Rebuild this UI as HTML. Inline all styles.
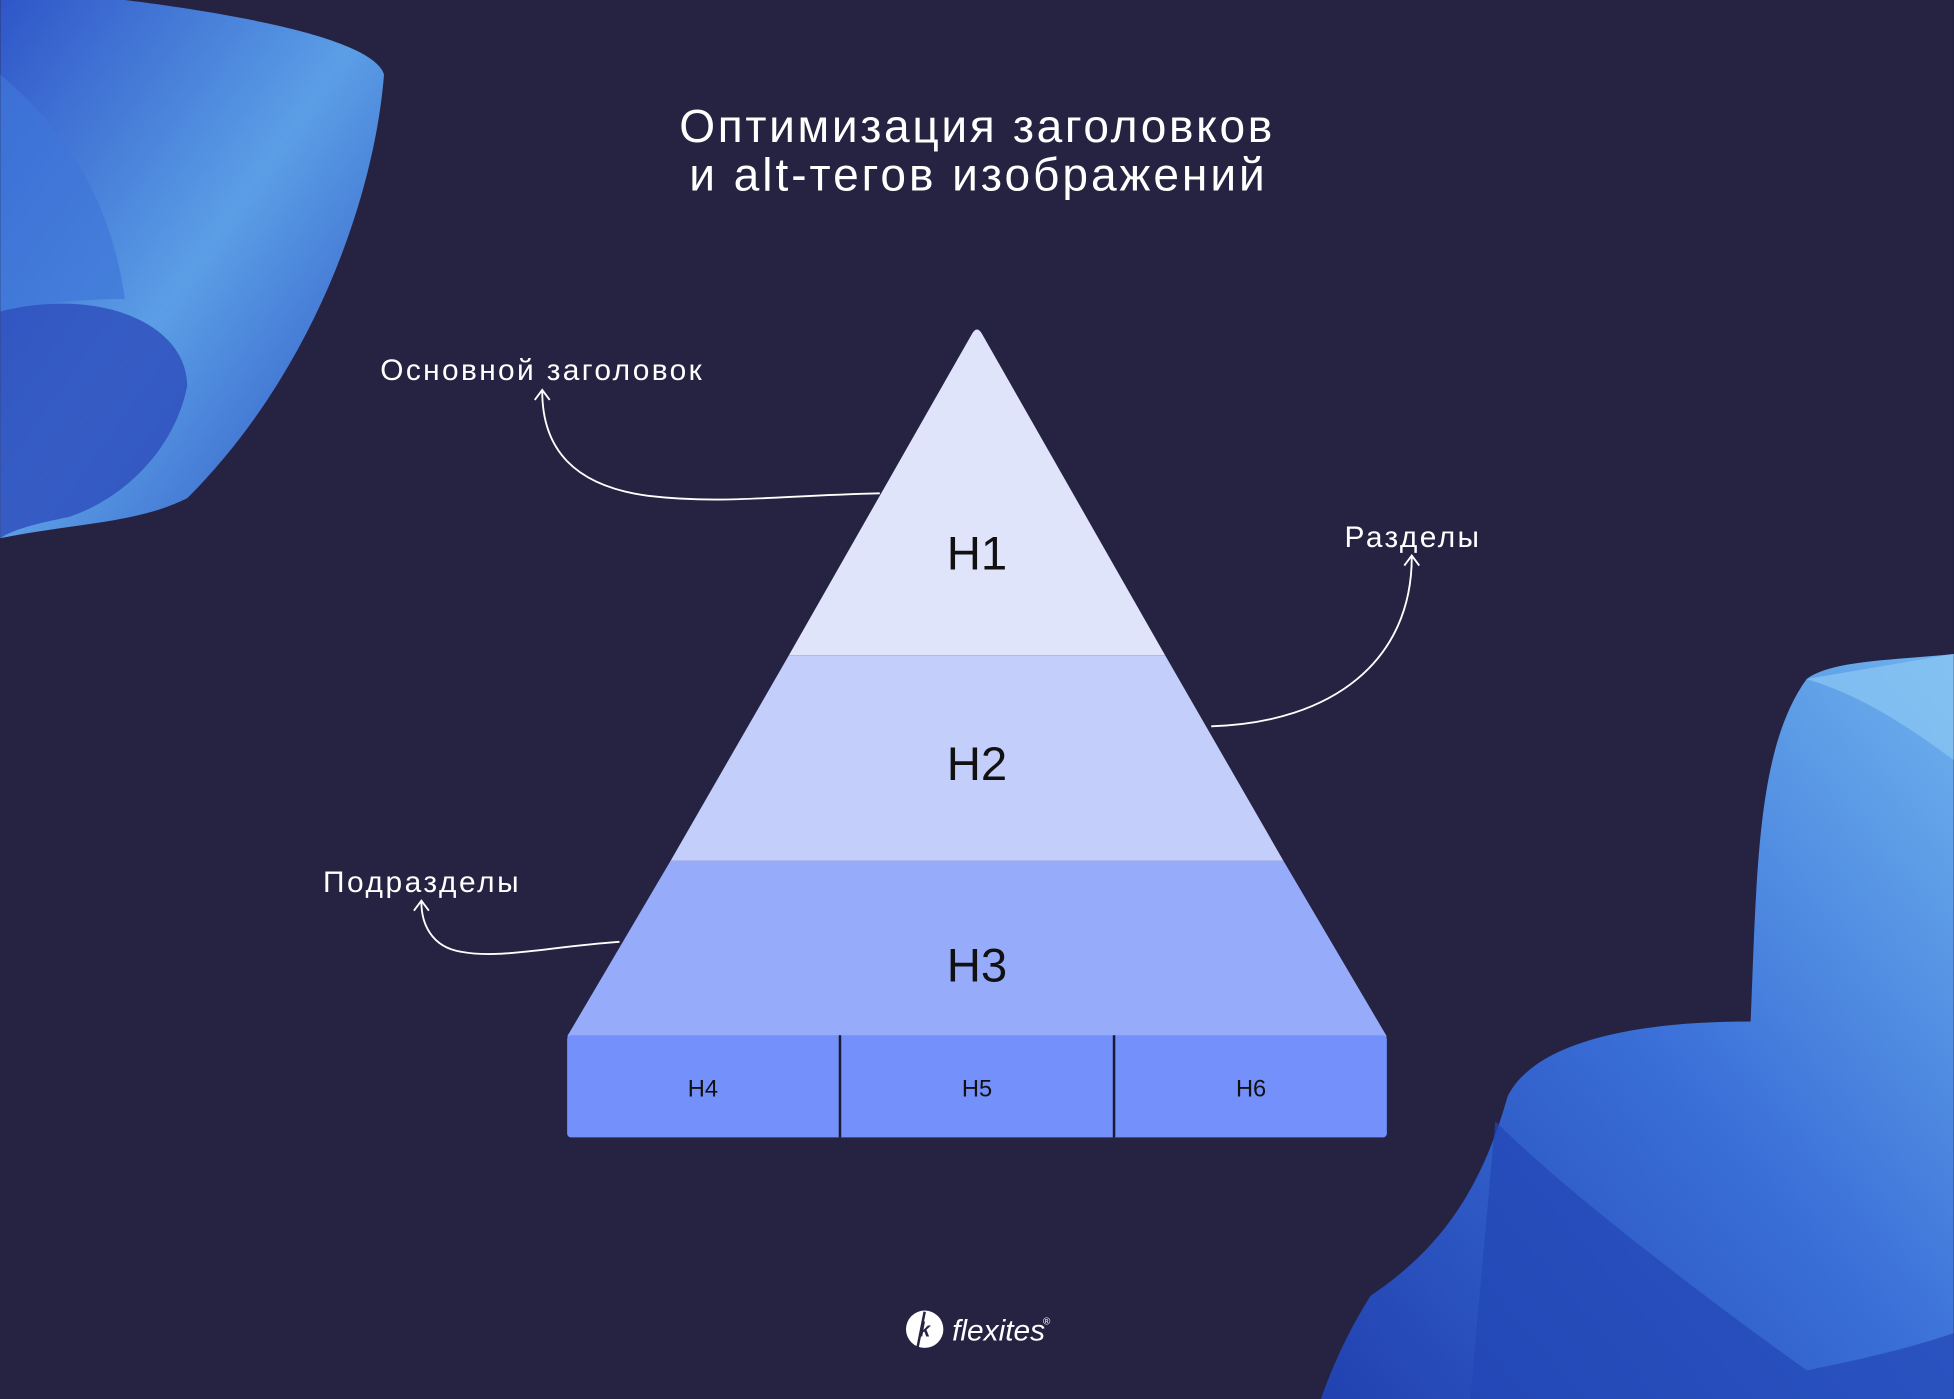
<!DOCTYPE html>
<html><head><meta charset="utf-8"><style>
html,body{margin:0;padding:0;background:#252341;}
svg{display:block}
text{font-family:"Liberation Sans","DejaVu Sans",sans-serif;fill:#fff}
</style></head><body>
<svg width="1954" height="1399" viewBox="0 0 1568 1123" xmlns="http://www.w3.org/2000/svg">
<defs>
<linearGradient id="g1" x1="0" y1="0" x2="1" y2="1">
<stop offset="0" stop-color="#2f56c8"/><stop offset="0.5" stop-color="#5b9ee6"/><stop offset="1" stop-color="#2a4fc0"/></linearGradient>
<linearGradient id="g2" x1="1" y1="0" x2="0" y2="1">
<stop offset="0" stop-color="#6fb3ee"/><stop offset="0.5" stop-color="#3a6fd8"/><stop offset="1" stop-color="#2141b0"/></linearGradient>
</defs>
<rect width="1568" height="1123" fill="#252341"/>
<path d="M0,0 L100,0 C180,10 300,30 308,60 C300,160 250,300 150,400 C110,420 60,420 0,432 Z" fill="url(#g1)"/>
<path d="M0,60 C60,110 90,170 100,240 C40,240 10,250 0,250 Z" fill="#3f76d8" opacity="0.7"/>
<path d="M0,250 C80,230 150,260 150,310 C140,360 100,400 55,415 C30,420 10,425 0,432 Z" fill="#2d4cbc" opacity="0.8"/>
<path d="M1568,525 C1520,530 1470,530 1450,545 C1410,600 1410,700 1405,820 C1300,820 1230,840 1210,880 C1190,950 1160,1000 1100,1040 C1075,1080 1065,1110 1060,1123 L1568,1123 Z" fill="url(#g2)"/>
<path d="M1200,900 C1260,960 1380,1050 1450,1100 C1500,1090 1540,1080 1568,1070 L1568,1123 L1180,1123 Z" fill="#2246b5" opacity="0.7"/>
<path d="M1450,545 C1500,560 1540,590 1568,610 L1568,525 Z" fill="#8cc7f3" opacity="0.7"/>
<text x="545" y="114" font-size="37" textLength="476" lengthAdjust="spacing">Оптимизация заголовков</text>
<text x="553" y="153" font-size="37" textLength="462" lengthAdjust="spacing">и alt-тегов изображений</text>
<path d="M780,268 Q784,261 788,268 L935,526 L633,526 Z" fill="#e0e4fb"/>
<path d="M633,526 L935,526 L1030,691 L538,691 Z" fill="#c3cefb"/>
<path d="M538,691 L1030,691 L1113,832 L455,832 Z" fill="#97abfb"/>
<rect x="455" y="831" width="658" height="82" rx="3" fill="#7390fb"/>
<line x1="674" y1="831" x2="674" y2="913" stroke="#1a1a30" stroke-width="2"/>
<line x1="894" y1="831" x2="894" y2="913" stroke="#1a1a30" stroke-width="2"/>
<text x="784" y="457" font-size="38" text-anchor="middle" style="fill:#111">H1</text>
<text x="784" y="626" font-size="38" text-anchor="middle" style="fill:#111">H2</text>
<text x="784" y="788" font-size="38" text-anchor="middle" style="fill:#111">H3</text>
<text x="564" y="880" font-size="19" text-anchor="middle" style="fill:#111">H4</text>
<text x="784" y="880" font-size="19" text-anchor="middle" style="fill:#111">H5</text>
<text x="1004" y="880" font-size="19" text-anchor="middle" style="fill:#111">H6</text>
<g fill="none" stroke="#fff" stroke-width="1.5">
<path d="M706,396 C620,398 580,405 520,398 C460,390 435,360 435,314"/>
<path d="M429,321 L435,313 L441,321"/>
<path d="M972,583 C1070,580 1133,530 1133,447"/>
<path d="M1127,454 L1133,446 L1139,454"/>
<path d="M497,756 C440,760 400,770 370,764 C345,760 338,740 338,724"/>
<path d="M332,731 L338,723 L344,731"/>
</g>
<text x="305" y="305" font-size="24" textLength="258" lengthAdjust="spacing">Основной заголовок</text>
<text x="1079" y="439" font-size="24" textLength="108" lengthAdjust="spacing">Разделы</text>
<text x="259" y="716" font-size="24" textLength="157" lengthAdjust="spacing">Подразделы</text>
<circle cx="742" cy="1067" r="15" fill="#fff"/>
<path d="M742,1053 L736,1083" stroke="#252341" stroke-width="2"/>
<text x="742" y="1073" font-size="16" text-anchor="middle" font-style="italic" font-weight="bold" style="fill:#252341">k</text>
<text x="764" y="1076" font-size="24" font-style="italic">flexites</text>
<text x="837" y="1063" font-size="8">®</text>
</svg>
</body></html>
